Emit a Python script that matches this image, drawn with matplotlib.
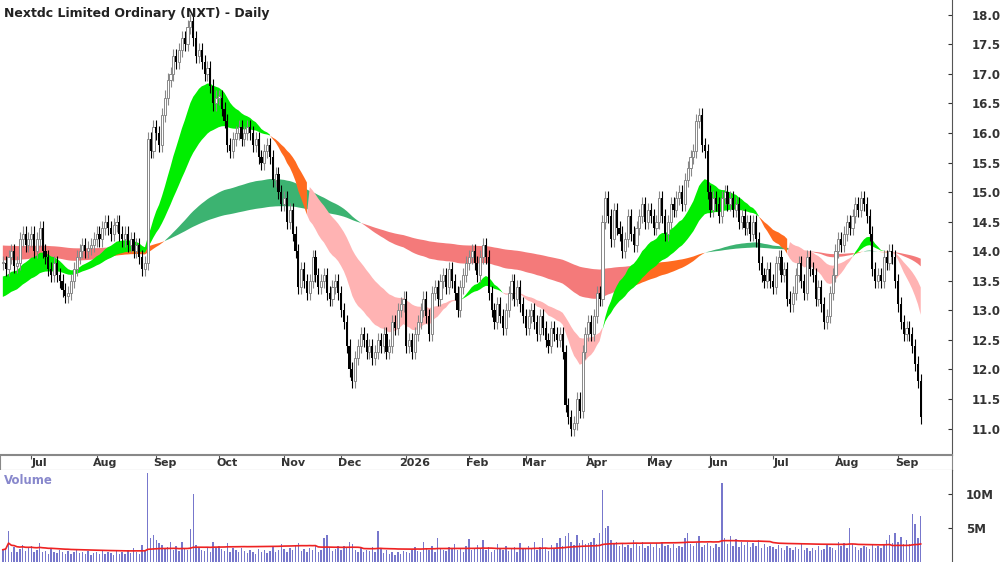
import numpy as np
import pandas as pd
import matplotlib
matplotlib.use('Agg')
import matplotlib.pyplot as plt

# daily closes
closes = (
    [13.8, 13.7, 13.9, 14.0, 13.75, 13.8, 14.2, 14.3, 14.1, 14.2] +  # Jun 25
    [14.3, 14.0, 14.2, 14.4, 14.0, 13.9, 13.7, 13.6, 13.8, 13.6, 13.5, 13.35, 13.25, 13.3, 13.5,
     13.7, 13.9, 14.0, 14.1, 14.0, 14.05, 14.1, 14.2] +
    [14.3, 14.2, 14.4, 14.5, 14.4, 14.3, 14.45, 14.5, 14.3, 14.2, 14.3, 14.1, 14.2, 14.0, 14.1,
     13.9, 13.7, 13.8, 15.9, 15.7, 16.1] +
    [16.0, 15.8, 16.3, 16.6, 16.9, 17.0, 17.3, 17.2, 17.4, 17.6, 17.5, 17.8, 17.9, 17.6, 17.3,
     17.4, 17.2, 17.0, 17.1, 16.8, 16.5, 16.6] +
    [16.6, 16.4, 16.2, 15.8, 15.7, 15.9, 16.0, 16.1, 15.9, 16.0, 16.1, 16.0, 15.8, 15.9, 15.6,
     15.5, 15.7, 15.8, 15.6, 15.2, 15.3, 15.0, 14.8] +
    [14.9, 14.5, 14.7, 14.3, 14.0, 13.4, 13.7, 13.5, 13.3, 13.5, 13.9, 13.6, 13.4, 13.5, 13.6,
     13.3, 13.2, 13.4, 13.5, 13.3] +
    [13.0, 12.8, 12.4, 12.0, 11.8, 12.2, 12.4, 12.6, 12.5, 12.3, 12.4, 12.2, 12.3, 12.5, 12.4,
     12.6, 12.3, 12.4, 12.8, 12.7, 13.0, 13.1, 13.2] +
    [12.4, 12.5, 12.3, 12.6, 12.8, 13.0, 13.2, 12.9, 12.6, 13.3, 13.4, 13.2, 13.5, 13.6, 13.4,
     13.7, 13.5, 13.3, 13.0, 13.4, 13.6, 13.8] +
    [13.9, 14.0, 13.8, 13.6, 13.9, 14.1, 13.9, 13.3, 13.0, 12.8, 13.1, 12.9, 12.7, 13.0, 13.3,
     13.5, 13.2, 13.4, 13.1, 12.9] +
    [12.7, 12.9, 13.0, 12.8, 12.6, 12.9, 12.7, 12.5, 12.4, 12.7, 12.6, 12.5, 12.6, 12.3, 11.4,
     11.2, 11.0, 11.1, 11.5, 11.3, 12.3, 12.6] +
    [12.8, 12.6, 12.9, 13.3, 13.2, 14.5, 14.9, 14.6, 14.2, 14.7, 14.4, 14.3, 14.0, 14.2, 14.6,
     14.3, 14.1, 14.4, 14.6, 14.8, 14.5, 14.7] +
    [14.6, 14.4, 14.5, 14.9, 14.6, 14.3, 14.5, 14.8, 14.7, 14.9, 15.0, 14.8, 15.2, 15.4, 15.6,
     15.7, 16.2, 16.3, 15.8, 15.7, 15.0] +
    [14.7, 14.9, 14.8, 14.6, 14.9, 15.0, 14.8, 14.9, 14.7, 14.8, 14.5, 14.6, 14.4, 14.5, 14.3,
     14.5, 14.2, 13.8, 13.6, 13.5, 13.7, 13.5] +
    [13.4, 13.8, 13.9, 13.6, 13.7, 13.2, 13.1, 13.3, 13.6, 13.8, 13.5, 13.3, 13.9, 13.7, 13.6,
     13.2, 13.4, 13.1, 12.8, 12.9, 13.3, 13.6, 14.0] +
    [14.2, 14.1, 14.3, 14.5, 14.4, 14.6, 14.8, 14.7, 14.9, 14.8, 14.6, 14.3, 13.7, 13.5, 13.6,
     13.5, 13.9, 13.8, 14.0, 13.9, 13.5] +
    [13.1, 12.8, 12.6, 12.7, 12.6, 12.4, 12.1, 11.8, 11.2]
)

# volume in millions
volume = (
    [1.8, 2.0, 4.5, 1.5, 2.2, 1.4, 1.9, 2.5, 1.6, 2.1] +
    [2.3, 1.5, 1.8, 2.8, 1.4, 1.6, 1.2, 2.0, 1.5, 1.3, 1.7, 1.4, 1.2, 1.6, 1.1,
     1.5, 1.8, 1.3, 1.4, 1.2, 1.6, 1.0, 1.3] +
    [1.4, 1.2, 1.8, 1.1, 1.5, 1.3, 1.0, 1.6, 1.2, 1.4, 1.1, 1.7, 1.3, 2.0, 1.5,
     1.2, 2.5, 1.8, 13.0, 3.5, 4.0] +
    [3.2, 2.8, 2.5, 1.9, 2.2, 3.0, 1.8, 2.4, 1.6, 2.9, 2.0, 1.7, 4.8, 10.0, 2.5,
     2.1, 1.8, 1.6, 2.2, 1.5, 3.0, 2.0] +
    [2.4, 1.9, 1.6, 2.8, 1.5, 2.0, 1.7, 1.4, 2.1, 1.6, 1.3, 1.8, 1.5, 1.2, 1.9,
     1.4, 1.7, 1.3, 1.6, 2.2, 1.5, 1.8, 2.6] +
    [1.9, 1.5, 2.0, 1.7, 2.3, 2.8, 1.6, 1.9, 1.4, 2.1, 1.7, 2.5, 1.5, 1.8, 3.5,
     4.0, 2.2, 1.6, 1.9, 2.4] +
    [1.8, 2.3, 2.0, 3.0, 2.6, 1.7, 1.5, 2.0, 1.4, 1.8, 1.6, 2.2, 1.5, 4.5, 2.0,
     1.3, 1.7, 1.2, 1.5, 1.0, 1.4, 1.2, 1.6] +
    [1.5, 1.3, 1.8, 2.2, 1.6, 1.4, 3.0, 1.9, 1.7, 2.4, 1.5, 3.5, 2.0, 1.8, 1.6,
     2.2, 1.9, 2.6, 1.7, 2.0, 1.5, 2.3] +
    [3.3, 1.8, 2.0, 2.5, 1.9, 3.2, 1.7, 2.2, 1.5, 1.8, 2.6, 2.0, 1.7, 2.4, 1.6,
     1.9, 2.2, 1.5, 2.8, 2.1] +
    [1.9, 2.4, 2.0, 3.0, 1.8, 2.2, 3.5, 2.0, 1.6, 2.5, 2.1, 2.8, 3.5, 2.3, 3.8,
     4.2, 3.0, 2.5, 4.0, 2.8, 3.2, 2.6] +
    [2.8, 3.0, 3.5, 2.6, 4.2, 10.5, 5.0, 5.3, 3.2, 2.7, 3.0, 2.4, 2.8, 2.2, 2.5,
     2.0, 3.2, 2.6, 2.3, 2.9, 2.1, 2.4] +
    [2.6, 2.2, 2.8, 2.0, 3.0, 2.3, 2.5, 2.1, 2.7, 2.0, 2.4, 2.2, 3.5, 4.3, 2.6,
     2.3, 2.8, 3.8, 2.2, 2.5, 2.8] +
    [2.4, 2.0, 2.6, 2.2, 11.5, 3.5, 2.6, 3.8, 2.4, 3.4, 2.2, 2.9, 2.5, 3.0, 2.2,
     2.8, 2.4, 3.2, 2.0, 2.6, 2.2, 2.4] +
    [2.2, 1.9, 2.5, 2.1, 1.8, 2.4, 2.0, 1.7, 2.2, 1.9, 2.6, 1.8, 2.1, 1.6, 2.0,
     1.8, 2.3, 1.7, 1.9, 2.6, 2.2, 2.0, 1.8] +
    [3.0, 2.4, 2.8, 2.0, 5.0, 2.6, 2.2, 1.8, 2.0, 2.4, 2.2, 1.9, 2.6, 2.1, 2.3,
     2.0, 2.5, 3.2, 4.0, 2.8, 4.2] +
    [3.0, 3.6, 2.7, 3.2, 2.6, 7.0, 5.5, 3.5, 6.8]
)

# ribbon averages: (span, starting level)
short_spans = [(20, 13.55), (42, 13.2)]
long_spans = [(120, 13.85), (260, 14.1)]

closes = np.array(closes)
volume = np.array(volume) * 1e6
n = len(closes)
dates = pd.bdate_range('2025-06-17', periods=n)
x = np.arange(n)
opens = np.r_[closes[0], closes[:-1]]
highs = np.maximum(opens, closes) + 0.12
lows = np.minimum(opens, closes) - 0.12

def ema(values, span, start):
    a = 2.0 / (span + 1)
    out = []
    prev = start
    for v in values:
        prev = a * v + (1 - a) * prev
        out.append(prev)
    return np.array(out)

short = np.array([ema(closes, s, v0) for s, v0 in short_spans])
long_ = np.array([ema(closes, s, v0) for s, v0 in long_spans])

fig = plt.figure(figsize=(10, 5.62), dpi=100)
ax = fig.add_axes([0.0, 0.19, 0.952, 0.81])
axd = fig.add_axes([0.0, 0.164, 0.952, 0.026])
axv = fig.add_axes([0.0, 0.0, 0.952, 0.164])

# long ribbon
lo, hi = long_.min(0), long_.max(0)
up_l = long_[0] > long_[-1]
sh_above = short.mean(0) > long_.mean(0)
ax.fill_between(x, lo, hi, where=up_l, color='#3cb371', lw=0, interpolate=True)
ax.fill_between(x, lo, hi, where=~up_l & sh_above, color='#ff6a1f', lw=0, interpolate=True)
ax.fill_between(x, lo, hi, where=~up_l & ~sh_above, color='#f47a7a', lw=0, interpolate=True)
# short ribbon
lo, hi = short.min(0), short.max(0)
up_s = short[0] > short[-1]
ax.fill_between(x, lo, hi, where=up_s, color='#00ee00', lw=0, interpolate=True)
ax.fill_between(x, lo, hi, where=~up_s & sh_above, color='#ff6a1f', lw=0, interpolate=True)
ax.fill_between(x, lo, hi, where=~up_s & ~sh_above, color='#ffb3b3', lw=0, interpolate=True)

# candles
for i in range(n):
    o, c = opens[i], closes[i]
    ax.vlines(x[i], lows[i], highs[i], color='#888888' if c >= o else 'black', lw=0.8, zorder=3)
    if c >= o:
        ax.bar(x[i], max(c - o, 0.02), bottom=o, width=0.75, facecolor='white',
               edgecolor='#888888', lw=0.7, zorder=4)
    else:
        ax.bar(x[i], o - c, bottom=c, width=0.75, color='black', lw=0, zorder=4)

ax.set_xlim(-1, n + 10)
ax.set_ylim(10.55, 18.25)
ax.yaxis.tick_right()
ax.set_yticks(np.arange(11.0, 18.01, 0.5))
ax.set_yticklabels(['%.1f' % v for v in np.arange(11.0, 18.01, 0.5)])
ax.tick_params(axis='y', direction='in', length=3, pad=14, labelsize=8.5, colors='#333333')
for lab in ax.get_yticklabels():
    lab.set_fontweight('bold')
ax.set_xticks([])
for s in ('top', 'left', 'bottom'):
    ax.spines[s].set_visible(False)
ax.spines['right'].set_color('#555555')
ax.text(0.004, 0.985, 'Nextdc Limited Ordinary (NXT) - Daily', transform=ax.transAxes,
        ha='left', va='top', fontsize=9, fontweight='bold', color='#222222')

# month axis strip
month_pos = [i for i in range(1, n) if dates[i].month != dates[i - 1].month]
labels = ['2026' if dates[i].month == 1 else dates[i].strftime('%b') for i in month_pos]
axd.set_xlim(ax.get_xlim())
axd.set_ylim(0, 1)
axd.set_xticks(month_pos)
axd.set_xticklabels([])
axd.tick_params(axis='x', direction='in', length=3, top=True, bottom=False, color='#555555')
axd.set_yticks([])
for p, lab in zip(month_pos, labels):
    axd.text(p + 3, 0.45, lab, ha='center', va='center', fontsize=8, fontweight='bold', color='#333333')
for s in axd.spines.values():
    s.set_color('#888888')
axd.spines['top'].set_linewidth(1.5)

# volume
axv.bar(x, volume, width=0.5, color='#7777cc', lw=0)
axv.plot(x, pd.Series(volume).rolling(60, min_periods=1).mean(), color='#ee2222', lw=1.2)
axv.set_xlim(ax.get_xlim())
axv.set_ylim(0, 13.5e6)
axv.yaxis.tick_right()
axv.set_yticks([5e6, 10e6])
axv.set_yticklabels(['5M', '10M'])
axv.tick_params(axis='y', direction='in', length=3, pad=10, labelsize=8.5, colors='#333333')
for lab in axv.get_yticklabels():
    lab.set_fontweight('bold')
axv.set_xticks([])
for s in ('top', 'left', 'bottom'):
    axv.spines[s].set_visible(False)
axv.spines['right'].set_color('#555555')
axv.text(0.004, 0.96, 'Volume', transform=axv.transAxes, ha='left', va='top',
         fontsize=8.5, fontweight='bold', color='#8888cc')

fig.savefig('out.png', dpi=100)
